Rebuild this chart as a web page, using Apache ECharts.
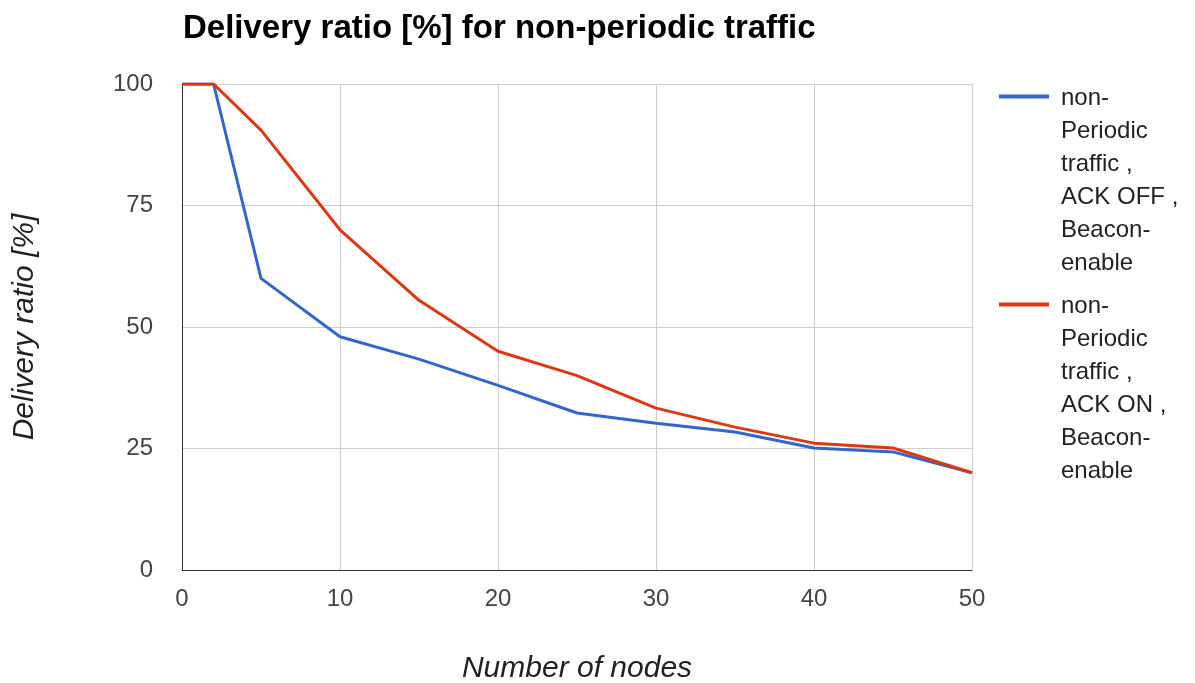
<!DOCTYPE html>
<html>
<head>
<meta charset="utf-8">
<script src="https://cdn.jsdelivr.net/npm/echarts@6/dist/echarts.min.js"></script>
<style>
  html, body { margin: 0; padding: 0; background: #fff; }
  #chart { width: 1195px; height: 683px; }
</style>
</head>
<body>
<div id="chart"></div>
<script>
// number of nodes
var nodes = [0, 2, 5, 10, 15, 20, 25, 30, 35, 40, 45, 50];
// delivery ratio, ACK OFF
var ackOff = [100, 100, 60, 48, 43.4, 38, 32.3, 30.2, 28.4, 25.1, 24.3, 20];
// delivery ratio, ACK ON
var ackOn = [100, 100, 90.5, 70, 55.5, 45, 40, 33.3, 29.4, 26.1, 25.1, 20];
var nameOff = 'non-Periodic traffic , ACK OFF , Beacon-enable';
var nameOn = 'non-Periodic traffic , ACK ON , Beacon-enable';
var legendLines = {};
legendLines[nameOff] = 'non-\nPeriodic\ntraffic ,\nACK OFF ,\nBeacon-\nenable';
legendLines[nameOn] = 'non-\nPeriodic\ntraffic ,\nACK ON ,\nBeacon-\nenable';

// legend line sits next to the first text line, not the middle of the block
var lineH = 33;
var blockH = lineH * 6;
var legendIcon = 'path://M0,' + (lineH / 2 - 4) + 'L50,' + (lineH / 2 - 4) + 'L50,' + (lineH / 2) + 'L0,' + (lineH / 2) + 'Z' +
  'M0,0L0.05,0L0.05,0.05Z M0,' + blockH + 'L0.05,' + blockH + 'L0.05,' + (blockH - 0.05) + 'Z';

function pairs(xs, ys) {
  return xs.map(function (x, i) { return [x, ys[i]]; });
}

var chart = echarts.init(document.getElementById('chart'));
chart.setOption({
  animation: false,
  color: ['#3366cc', '#dc3912'],
  title: {
    text: 'Delivery ratio [%] for non-periodic traffic',
    left: 178,
    top: 7,
    textStyle: { fontFamily: 'Liberation Sans', fontWeight: 'bold', fontSize: 33, color: '#000' }
  },
  legend: {
    orient: 'vertical',
    left: 999,
    top: 82,
    padding: 0,
    itemWidth: 50,
    itemHeight: blockH,
    itemGap: 10,
    icon: legendIcon,
    formatter: function (n) { return legendLines[n]; },
    textStyle: { fontFamily: 'Liberation Sans', fontSize: 24, color: '#222', lineHeight: lineH, padding: [0, 0, 0, 7] },
    data: [nameOff, nameOn]
  },
  grid: { left: 182, right: 223, top: 84, bottom: 113, outerBoundsMode: 'none' },
  xAxis: {
    type: 'value',
    min: 0, max: 50, interval: 10,
    name: 'Number of nodes',
    nameLocation: 'middle',
    nameGap: 84,
    nameTextStyle: { fontFamily: 'Liberation Sans', fontStyle: 'italic', fontSize: 30, color: '#222' },
    axisLine: { lineStyle: { color: '#333', width: 1 } },
    axisTick: { show: false },
    axisLabel: { margin: 17, fontFamily: 'Liberation Sans', fontSize: 24, color: '#444' },
    splitLine: { show: true, lineStyle: { color: '#ccc', width: 1 } }
  },
  yAxis: {
    type: 'value',
    min: 0, max: 100, interval: 25,
    name: 'Delivery ratio [%]',
    nameLocation: 'middle',
    nameGap: 142,
    nameTextStyle: { fontFamily: 'Liberation Sans', fontStyle: 'italic', fontSize: 30, color: '#222' },
    axisLine: { show: true, lineStyle: { color: '#333', width: 1 } },
    axisTick: { show: false },
    axisLabel: { margin: 29, fontFamily: 'Liberation Sans', fontSize: 24, color: '#444' },
    splitLine: { show: true, lineStyle: { color: '#ccc', width: 1 } }
  },
  series: [
    {
      name: nameOff, type: 'line', data: pairs(nodes, ackOff),
      showSymbol: false, lineStyle: { width: 3 }
    },
    {
      name: nameOn, type: 'line', data: pairs(nodes, ackOn),
      showSymbol: false, lineStyle: { width: 3 }
    }
  ]
});
</script>
</body>
</html>
